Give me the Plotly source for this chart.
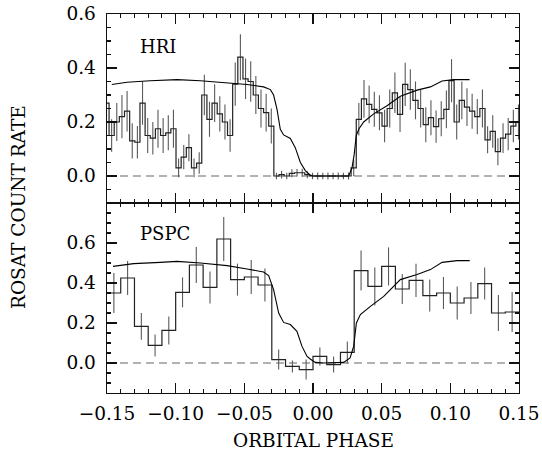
import plotly.graph_objects as go
from plotly.subplots import make_subplots

# ---------------- data ----------------
hri_bin_start = -0.15225
hri_bin_width = 0.00375
hri_rate = [
    0.27, 0.15, 0.20, 0.22, 0.24, 0.13, 0.125, 0.27, 0.15, 0.14,
    0.175, 0.15, 0.16, 0.175, 0.03, 0.07, 0.105, 0.03, 0.048, 0.30,
    0.21, 0.27, 0.23, 0.20, 0.15, 0.34, 0.44, 0.36, 0.35, 0.30,
    0.25, 0.235, 0.185, 0.0, 0.005, 0.0, 0.01, 0.012, 0.012, 0.005,
    0.0, 0.0, 0.0, 0.0, 0.0, 0.0, 0.0, 0.0, 0.03, 0.21,
    0.286, 0.265, 0.247, 0.234, 0.185, 0.25, 0.308, 0.228, 0.339, 0.32,
    0.28, 0.25, 0.19, 0.216, 0.183, 0.212, 0.247, 0.353, 0.20, 0.28,
    0.255, 0.24, 0.22, 0.25, 0.134, 0.165, 0.09, 0.14, 0.155, 0.185,
    0.20,
]
hri_err = [
    0.08, 0.06, 0.07, 0.08, 0.075, 0.065, 0.06, 0.08, 0.065, 0.06,
    0.07, 0.065, 0.065, 0.07, 0.035, 0.045, 0.05, 0.035, 0.04, 0.075,
    0.065, 0.07, 0.065, 0.065, 0.06, 0.08, 0.085, 0.075, 0.075, 0.07,
    0.07, 0.07, 0.065, 0.012, 0.014, 0.012, 0.015, 0.014, 0.015, 0.013,
    0.012, 0.013, 0.012, 0.013, 0.012, 0.013, 0.012, 0.013, 0.03, 0.06,
    0.07, 0.07, 0.065, 0.065, 0.06, 0.07, 0.075, 0.065, 0.08, 0.075,
    0.07, 0.07, 0.065, 0.065, 0.06, 0.065, 0.07, 0.08, 0.065, 0.07,
    0.07, 0.065, 0.065, 0.07, 0.05, 0.06, 0.05, 0.055, 0.06, 0.06,
    0.065,
]

pspc_bin_start = -0.15
pspc_bin_width = 0.01
pspc_rate = [
    0.35, 0.425, 0.183, 0.088, 0.163, 0.353, 0.49, 0.378, 0.62, 0.417,
    0.43, 0.39, 0.017, -0.017, -0.033, 0.033, -0.008, 0.053, 0.462, 0.383,
    0.483, 0.37, 0.413, 0.337, 0.35, 0.30, 0.325, 0.397, 0.25, 0.255,
]
pspc_err = [
    0.10, 0.085, 0.067, 0.055, 0.07, 0.075, 0.09, 0.08, 0.11, 0.08,
    0.085, 0.083, 0.05, 0.03, 0.05, 0.045, 0.04, 0.055, 0.10, 0.095,
    0.095, 0.075, 0.083, 0.08, 0.08, 0.083, 0.08, 0.08, 0.09, 0.10,
]

hri_model_phase = [
    -0.1465, -0.1354, -0.1185, -0.099, -0.082, -0.0626, -0.048, -0.036,
    -0.031, -0.0287, -0.0262, -0.0238, -0.0214, -0.0165, -0.0129, -0.0092,
    -0.0056, -0.002, 0.0, 0.026, 0.0284, 0.0300, 0.0315, 0.0335, 0.0369,
    0.0442, 0.0539, 0.0636, 0.0758, 0.0855, 0.094, 0.1024, 0.114,
]
hri_model_rate = [
    0.339, 0.347, 0.353, 0.357, 0.353, 0.345, 0.339, 0.33,
    0.32, 0.30, 0.247, 0.173, 0.152, 0.139, 0.105, 0.05,
    0.02, 0.003, 0.0, 0.0, 0.03, 0.08, 0.15, 0.175, 0.20,
    0.23, 0.26, 0.295, 0.318, 0.33, 0.352, 0.357, 0.357,
]
pspc_model_phase = [
    -0.1456, -0.1306, -0.1112, -0.099, -0.082, -0.0626, -0.048, -0.036,
    -0.0323, -0.0287, -0.025, -0.0214, -0.0165, -0.0117, -0.008, -0.0043,
    -0.002, 0.0016, 0.0077, 0.0223, 0.027, 0.0296, 0.0316, 0.0345, 0.0418,
    0.0515, 0.0636, 0.0758, 0.0855, 0.094, 0.105, 0.1141,
]
pspc_model_rate = [
    0.483, 0.497, 0.503, 0.508, 0.50, 0.487, 0.47, 0.455,
    0.437, 0.367, 0.25, 0.203, 0.192, 0.158, 0.083, 0.033,
    0.02, 0.003, 0.0, 0.003, 0.025, 0.083, 0.2, 0.242, 0.283,
    0.333, 0.417, 0.442, 0.467, 0.503, 0.512, 0.512,
]

x_tick_vals = [-0.15, -0.10, -0.05, 0.0, 0.05, 0.10, 0.15]
y_tick_vals = [0.0, 0.2, 0.4, 0.6]
panel_labels = ["HRI", "PSPC"]
x_title = "ORBITAL PHASE"
y_title = "ROSAT COUNT RATE"

# ---------------- figure ----------------
FONT = "DejaVu Serif"
HIST_COLOR = "#222222"
ERR_COLOR = "#5a5a5a"

fig = make_subplots(rows=2, cols=1, shared_xaxes=True, vertical_spacing=0)


def add_panel(row, start, width, rate, err, mphase, mrate):
    n = len(rate)
    edges = [start + width * i for i in range(n + 1)]
    centers = [start + width * (i + 0.5) for i in range(n)]
    fig.add_trace(go.Scatter(
        x=centers, y=rate, mode="markers",
        marker=dict(size=1, color="rgba(0,0,0,0)"),
        error_y=dict(type="data", array=err, visible=True, width=0,
                     thickness=1.1, color=ERR_COLOR),
        hoverinfo="skip", showlegend=False), row=row, col=1)
    fig.add_trace(go.Scatter(
        x=edges, y=list(rate) + [rate[-1]], mode="lines",
        line=dict(shape="hv", color=HIST_COLOR, width=1.2),
        showlegend=False), row=row, col=1)
    fig.add_trace(go.Scatter(
        x=mphase, y=mrate, mode="lines",
        line=dict(color="black", width=1.1),
        showlegend=False), row=row, col=1)


add_panel(1, hri_bin_start, hri_bin_width, hri_rate, hri_err,
          hri_model_phase, hri_model_rate)
add_panel(2, pspc_bin_start, pspc_bin_width, pspc_rate, pspc_err,
          pspc_model_phase, pspc_model_rate)

W, H = 542, 454
ml, mr, mt, mb = 107, 23, 14, 61
split = (393 - 203) / (H - mt - mb)

axis_common = dict(
    showline=True, linecolor="#111111", linewidth=1.4, mirror="allticks",
    ticks="inside", tickcolor="#111111", tickwidth=1.2, showgrid=False,
    zeroline=False, automargin=False,
    tickfont=dict(family=FONT, size=18.5, color="black"),
)

fig.update_xaxes(
    range=[-0.15, 0.15], tickvals=x_tick_vals, tickformat=".2f", ticklen=10,
    minor=dict(dtick=0.01, tick0=0, ticks="inside", ticklen=4,
               tickcolor="#111111", tickwidth=1.1, showgrid=False),
    ticklabelstandoff=3,
    **axis_common)
fig.update_xaxes(showticklabels=False, row=1, col=1)

fig.update_yaxes(
    tickvals=y_tick_vals, tickformat=".1f", ticklen=10,
    minor=dict(dtick=0.05, tick0=0, ticks="inside", ticklen=4,
               tickcolor="#111111", tickwidth=1.1, showgrid=False),
    ticklabelstandoff=6,
    **axis_common)
fig.update_yaxes(range=[-0.1, 0.6], domain=[split, 1.0], row=1, col=1)
fig.update_yaxes(range=[-0.15, 0.8], domain=[0.0, split], row=2, col=1)

for yref in ["y", "y2"]:
    fig.add_shape(type="line", xref="x domain" if yref == "y" else "x2 domain",
                  yref=yref, x0=0, x1=1, y0=0, y1=0,
                  line=dict(color="#666666", width=1.1, dash="8px,5px"),
                  layer="below")

fig.add_annotation(text=panel_labels[0], xref="x domain", yref="y domain",
                   x=0.075, y=0.83, xanchor="left", yanchor="middle",
                   showarrow=False, font=dict(family=FONT, size=18, color="black"))
fig.add_annotation(text=panel_labels[1], xref="x2 domain", yref="y2 domain",
                   x=0.075, y=0.842, xanchor="left", yanchor="middle",
                   showarrow=False, font=dict(family=FONT, size=18, color="black"))

fig.add_annotation(text=x_title, xref="paper", yref="paper",
                   x=(313 - ml) / (W - ml - mr), y=(393 - 440) / (H - mt - mb),
                   xanchor="center", yanchor="middle", showarrow=False,
                   font=dict(family=FONT, size=18.5, color="black"))
fig.add_annotation(text=y_title, xref="paper", yref="paper",
                   x=(18 - ml) / (W - ml - mr), y=(393 - 207) / (H - mt - mb),
                   xanchor="center", yanchor="middle", textangle=-90,
                   showarrow=False,
                   font=dict(family=FONT, size=18.5, color="black"))

fig.update_layout(
    width=W, height=H,
    margin=dict(l=ml, r=mr, t=mt, b=mb, autoexpand=False),
    paper_bgcolor="white", plot_bgcolor="white",
    showlegend=False,
    font=dict(family=FONT, color="black"),
)

fig.write_html("out.html",
               config={"displayModeBar": False, "staticPlot": True},
               post_script="document.body.style.margin='0px';"
                           "document.body.style.overflow='hidden';")
